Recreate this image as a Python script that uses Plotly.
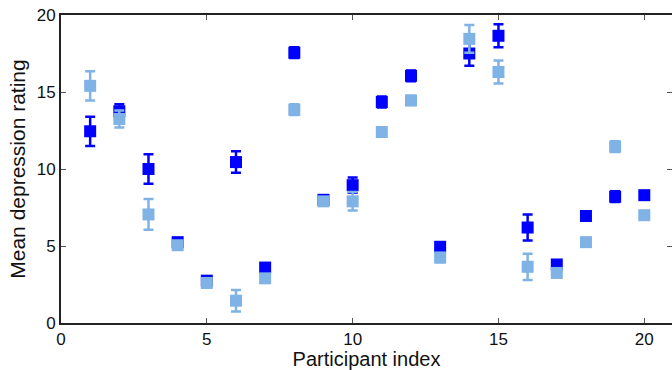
import plotly.graph_objects as go

participants = list(range(1, 21))
dark_mean = [12.45, 13.75, 10.0, 5.25, 2.75, 10.45, 3.6, 17.55, 8.0, 8.95,
             14.35, 16.05, 4.95, 17.5, 18.65, 6.2, 3.8, 6.95, 8.2, 8.3]
dark_err = [0.95, 0.45, 0.95, 0.2, 0.2, 0.7, 0.2, 0.35, 0.2, 0.5,
            0.35, 0.35, 0.3, 0.8, 0.75, 0.85, 0.2, 0.3, 0.35, 0.0]
light_mean = [15.4, 13.25, 7.05, 5.05, 2.6, 1.45, 2.9, 13.85, 7.9, 7.9,
              12.4, 14.45, 4.25, 18.45, 16.3, 3.65, 3.25, 5.25, 11.45, 7.0]
light_err = [0.95, 0.55, 1.0, 0.2, 0.2, 0.7, 0.2, 0.35, 0.2, 0.6,
             0.3, 0.3, 0.3, 0.9, 0.75, 0.85, 0.2, 0.2, 0.35, 0.0]
x_ticks = [0, 5, 10, 15, 20]
y_ticks = [0, 5, 10, 15, 20]

DARK = "#0000ff"
LIGHT = "#7fb2e5"
FONT = "Liberation Sans, Arial"

fig = go.Figure()
for y, e, c in [(dark_mean, dark_err, DARK), (light_mean, light_err, LIGHT)]:
    fig.add_trace(go.Scatter(
        x=participants, y=y, mode="markers",
        marker=dict(symbol="square", size=12, color=c, line=dict(width=0)),
        error_y=dict(type="data", array=e, visible=True, color=c,
                     thickness=2.5, width=5),
        showlegend=False,
    ))

axis_common = dict(
    showline=True, linecolor="#222222", linewidth=2, mirror="ticks",
    ticks="inside", ticklen=5, tickwidth=1, tickcolor="#555555",
    showgrid=False, zeroline=False, ticklabeloverflow="allow",
    tickfont=dict(family=FONT, size=17, color="#111111"),
)

fig.update_layout(
    width=672, height=370, autosize=False,
    margin=dict(l=61, r=0, t=15, b=47, autoexpand=False),
    plot_bgcolor="white", paper_bgcolor="white",
    xaxis=dict(range=[0, 20.95], tickvals=x_ticks,
               title=dict(text="Participant index", standoff=5,
                          font=dict(family=FONT, size=20, color="#111111")),
               **axis_common),
    yaxis=dict(range=[0, 20], tickvals=y_ticks,
               title=dict(text="Mean depression rating", standoff=5,
                          font=dict(family=FONT, size=21, color="#111111")),
               **axis_common),
)

fig.write_html("out.html", config={"displayModeBar": False},
               post_script="document.body.style.margin='0';")
